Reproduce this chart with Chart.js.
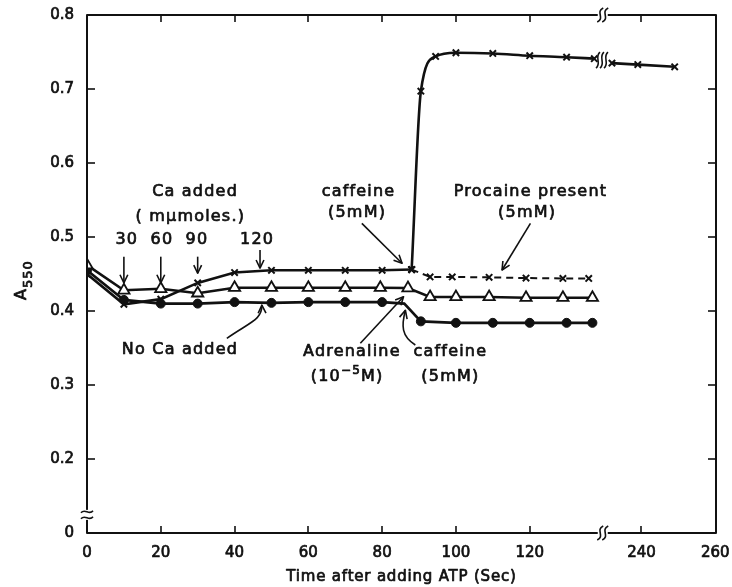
<!DOCTYPE html>
<html><head><meta charset="utf-8">
<script src="https://cdn.jsdelivr.net/npm/chart.js@4.4.0/dist/chart.umd.min.js"></script>
<style>html,body{margin:0;padding:0;background:#fff}canvas{display:block}</style>
</head><body>
<canvas id="c" width="732" height="587"></canvas>
<script>
// ---- axis definitions ----
const X_BREAK_OFFSET = 89.7;           // seconds removed by the x-axis break
const xTickSeconds = [0,20,40,60,80,100,120,240,260];
const xTickLabels  = ['0','20','40','60','80','100','120','240','260'];
const yTickPositions = [0.1,0.2,0.3,0.4,0.5,0.6,0.7,0.8];
const yTickLabels    = ['0','0.2','0.3','0.4','0.5','0.6','0.7','0.8'];

// ---- series (time in s, A550) ----
const crossTimes  = [0,10,20,30,40,50,60,70,80,88];
const crossValues = [0.450,0.409,0.416,0.438,0.452,0.455,0.455,0.455,0.455,0.456];
const caffeineTimes  = [88,90.5,94.5,100,110,120,130,137.5];
const caffeineValues = [0.456,0.697,0.744,0.749,0.748,0.745,0.743,0.741];
const caffeineLateTimes  = [232,239,249];
const caffeineLateValues = [0.735,0.733,0.730];
const procaineTimes  = [88,93,99,109,119,129,136];
const procaineValues = [0.456,0.446,0.446,0.4455,0.4445,0.444,0.444];
const triTimes  = [0,10,20,30,40,50,60,70,79.5,87,93,100,109,119,129,137];
const triValues = [0.462,0.428,0.430,0.424,0.4315,0.4315,0.4315,0.4315,0.4315,0.431,0.419,0.419,0.419,0.418,0.418,0.418];
const circleTimes  = [0,10,20,30,40,50,60,70,80,86,90.5,100,110,120,130,137];
const circleValues = [0.455,0.415,0.410,0.410,0.412,0.411,0.412,0.412,0.412,0.410,0.386,0.384,0.384,0.384,0.384,0.384];
const circleMarked = [1,1,1,1,1,1,1,1,1,0,1,1,1,1,1,1];

const toDisp = t => (t > 200 ? t - X_BREAK_OFFSET : t);
const pts = (ts, vs, marks) => ts.map((t,i) => ({x: toDisp(t), y: vs[i], m: marks ? marks[i] : 1}));

const FONT = "'DejaVu Sans', sans-serif";
const INK = '#111';

const baseLine = {borderColor: INK, borderWidth: 2.6, pointBorderColor: INK, tension: 0, fill: false};
const crossStyle = {pointStyle: 'crossRot', pointRadius: 4.5, pointBorderWidth: 2, pointBackgroundColor: INK};

const datasets = [
  Object.assign({label:'Ca added', data: pts(crossTimes, crossValues)}, baseLine, crossStyle),
  Object.assign({label:'caffeine', data: pts(caffeineTimes, caffeineValues), cubicInterpolationMode:'monotone'}, baseLine, crossStyle),
  Object.assign({label:'caffeine late', data: pts(caffeineLateTimes, caffeineLateValues)}, baseLine, crossStyle),
  Object.assign({label:'procaine', data: pts(procaineTimes, procaineValues)}, baseLine, crossStyle, {borderWidth: 2, borderDash: [7,5]}),
  Object.assign({label:'adrenaline', data: pts(triTimes, triValues)}, baseLine,
    {pointStyle:'triangle', pointRadius: 6.5, pointBorderWidth: 1.8, pointBackgroundColor:'#fff'}),
  Object.assign({label:'no Ca', data: pts(circleTimes, circleValues, circleMarked)}, baseLine,
    {pointStyle:'circle', pointRadius: c => (c.raw && c.raw.m ? 4.5 : 0), pointBorderWidth: 1, pointBackgroundColor: INK})
];

// ---- annotations (data coordinates) ----
const texts = [
  ['Ca added', 29.3, 0.561], ['( mμmoles.)', 28.0, 0.527],
  ['30', 10.8, 0.496], ['60', 20.3, 0.496], ['90', 29.8, 0.496], ['120', 46.1, 0.496],
  ['No Ca added', 25.2, 0.347],
  ['caffeine', 73.6, 0.561], ['(5mM)', 73.2, 0.532],
  ['Procaine present', 120.2, 0.561], ['(5mM)', 119.3, 0.532],
  ['Adrenaline', 71.8, 0.345],
  ['caffeine', 98.5, 0.345], ['(5mM)', 98.5, 0.311]
];
const straightArrows = [
  [10, 0.4734, 10, 0.438], [20, 0.4734, 20, 0.438], [30, 0.4734, 30, 0.451], [46.9, 0.4824, 46.9, 0.458],
  [74.5, 0.5185, 85.4, 0.4645], [120.2, 0.5185, 112.5, 0.4554], [74.1, 0.3564, 85.8, 0.4193]
];
const curvedArrows = [
  [37.9, 0.363, 44.2, 0.385, 47.5, 0.388, 47.4, 0.408],
  [89.0, 0.354, 85.2, 0.366, 85.2, 0.380, 86.3, 0.401]
];

function arrowHead(ctx, x1, y1, x2, y2, len) {
  const a = Math.atan2(y2 - y1, x2 - x1), w = 0.45;
  ctx.beginPath();
  ctx.moveTo(x2 - len*Math.cos(a - w), y2 - len*Math.sin(a - w));
  ctx.lineTo(x2, y2);
  ctx.lineTo(x2 - len*Math.cos(a + w), y2 - len*Math.sin(a + w));
  ctx.stroke();
}

const TXT = '16px ' + FONT;
const SMALL = '12px ' + FONT;
const STROKE_W = 0.7;
function txt(ctx, s, x, y) {
  ctx.fillText(s, x, y);
  ctx.lineWidth = STROKE_W; ctx.strokeText(s, x, y);
}

const decor = {
  id: 'decor',
  afterDraw(chart) {
    const {ctx, chartArea: a, scales: {x, y}} = chart;
    const X = v => x.getPixelForValue(v), Y = v => y.getPixelForValue(v);
    ctx.save();
    ctx.strokeStyle = INK; ctx.fillStyle = INK; ctx.lineCap = 'butt'; ctx.lineJoin = 'round';
    ctx.lineWidth = 2;
    ctx.strokeRect(a.left, a.top, a.right - a.left, a.bottom - a.top);
    ctx.lineWidth = 1.6;
    xTickSeconds.forEach((t, i) => {
      if (i === 0 || i === xTickSeconds.length - 1) return;
      const px = Math.round(X(toDisp(t)));
      ctx.beginPath(); ctx.moveTo(px, a.bottom); ctx.lineTo(px, a.bottom - 7); ctx.stroke();
      ctx.beginPath(); ctx.moveTo(px, a.top); ctx.lineTo(px, a.top + 7); ctx.stroke();
    });
    yTickPositions.forEach((v, i) => {
      if (i === 0 || i === yTickPositions.length - 1) return;
      const py = Math.round(Y(v));
      ctx.beginPath(); ctx.moveTo(a.left, py); ctx.lineTo(a.left + 8, py); ctx.stroke();
      ctx.beginPath(); ctx.moveTo(a.right, py); ctx.lineTo(a.right - 8, py); ctx.stroke();
    });
    // x-axis breaks
    const bx = X(139.8);
    [a.bottom, a.top].forEach(by => {
      ctx.fillStyle = '#fff'; ctx.fillRect(bx - 5, by - 2, 10, 4);
      ctx.lineWidth = 1.6;
      [-2.5, 2.5].forEach(dx => {
        ctx.beginPath();
        ctx.moveTo(bx + dx - 3, by + 7);
        ctx.bezierCurveTo(bx + dx + 5, by + 3, bx + dx - 5, by - 3, bx + dx + 3, by - 7);
        ctx.stroke();
      });
    });
    // y-axis break
    const byy = Y(0.1245);
    ctx.fillStyle = '#fff'; ctx.fillRect(a.left - 2, byy - 5, 4, 10);
    [-3, 3].forEach(dy => {
      ctx.beginPath();
      ctx.moveTo(a.left - 6, byy + dy + 1);
      ctx.bezierCurveTo(a.left - 2, byy + dy - 4, a.left + 2, byy + dy + 4, a.left + 6, byy + dy - 1);
      ctx.stroke();
    });
    // series break on caffeine trace
    const sx = X(139.6), sy = Y(0.739);
    [-4, 0, 4].forEach(dx => {
      ctx.beginPath();
      ctx.moveTo(sx + dx - 2, sy + 8);
      ctx.bezierCurveTo(sx + dx + 4, sy + 3, sx + dx - 4, sy - 3, sx + dx + 2, sy - 8);
      ctx.stroke();
    });
    // texts
    ctx.fillStyle = INK;
    ctx.font = TXT;
    try { ctx.letterSpacing = '1.2px'; } catch (e) {}
    ctx.textAlign = 'center'; ctx.textBaseline = 'middle';
    texts.forEach(([s, tx, ty]) => txt(ctx, s, X(tx), Y(ty)));
    {
      const cx = X(70.5), cy = Y(0.3112);
      const p1 = '(10', p2 = '−5', p3 = 'M)';
      ctx.font = TXT; const w1 = ctx.measureText(p1).width, w3 = ctx.measureText(p3).width;
      ctx.font = SMALL; const w2 = ctx.measureText(p2).width;
      const sx0 = cx - (w1 + w2 + w3) / 2;
      ctx.textAlign = 'left';
      ctx.font = TXT; txt(ctx, p1, sx0, cy);
      ctx.font = SMALL; txt(ctx, p2, sx0 + w1, cy - 6);
      ctx.font = TXT; txt(ctx, p3, sx0 + w1 + w2, cy);
    }
    ctx.lineWidth = 1.6;
    straightArrows.forEach(([x1, y1, x2, y2]) => {
      const p1x = X(x1), p1y = Y(y1), p2x = X(x2), p2y = Y(y2);
      ctx.lineWidth = 1.6;
      ctx.beginPath(); ctx.moveTo(p1x, p1y); ctx.lineTo(p2x, p2y); ctx.stroke();
      arrowHead(ctx, p1x, p1y, p2x, p2y, 9);
    });
    curvedArrows.forEach(([x0, y0, x1, y1, x2, y2, x3, y3]) => {
      ctx.lineWidth = 1.6;
      ctx.beginPath(); ctx.moveTo(X(x0), Y(y0));
      ctx.bezierCurveTo(X(x1), Y(y1), X(x2), Y(y2), X(x3), Y(y3)); ctx.stroke();
      arrowHead(ctx, X(x2), Y(y2), X(x3), Y(y3), 9);
    });
    // y-axis title A550
    ctx.save();
    ctx.translate(22, 280);
    ctx.rotate(-Math.PI / 2);
    try { ctx.letterSpacing = '1px'; } catch (e) {}
    ctx.textAlign = 'left'; ctx.textBaseline = 'middle';
    ctx.font = TXT;
    const wa = ctx.measureText('A').width;
    ctx.font = '13px ' + FONT;
    const ws = ctx.measureText('550').width;
    const start = -(wa + ws) / 2;
    ctx.font = TXT; txt(ctx, 'A', start, 0);
    ctx.font = '13px ' + FONT; txt(ctx, '550', start + wa, 7);
    ctx.restore();
    // x-axis title
    ctx.font = '15px ' + FONT; ctx.textAlign = 'center';
    try { ctx.letterSpacing = '0.8px'; } catch (e) {}
    txt(ctx, 'Time after adding ATP (Sec)', (a.left + a.right) / 2, 577);
    ctx.restore();
  }
};

const tickFont = {family: FONT, size: 15};
new Chart(document.getElementById('c'), {
  type: 'line',
  data: {datasets},
  options: {
    responsive: false, animation: false, devicePixelRatio: 1,
    layout: {padding: {top: 15, right: 16, bottom: 0, left: 0}},
    plugins: {legend: {display: false}, tooltip: {enabled: false}},
    scales: {
      x: {
        type: 'linear', min: 0, max: 170.5,
        grid: {display: false, drawTicks: false}, border: {display: false},
        ticks: {font: tickFont, color: INK, textStrokeColor: INK, textStrokeWidth: STROKE_W,
                padding: 11, autoSkip: false, maxRotation: 0,
                callback: (v, i) => xTickLabels[i]},
        afterBuildTicks: s => { s.ticks = xTickSeconds.map(t => ({value: toDisp(t)})); },
        afterFit: s => { s.height = 54; s.paddingLeft = 0; s.paddingRight = 0; }
      },
      y: {
        type: 'linear', min: 0.1, max: 0.8,
        grid: {display: false, drawTicks: false}, border: {display: false},
        ticks: {font: tickFont, color: INK, textStrokeColor: INK, textStrokeWidth: STROKE_W,
                padding: 13, autoSkip: false,
                callback: (v, i) => yTickLabels[i]},
        afterBuildTicks: s => { s.ticks = yTickPositions.map(v => ({value: v})); },
        afterFit: s => { s.width = 87; s.paddingTop = 0; s.paddingBottom = 0; }
      }
    }
  },
  plugins: [decor]
});
</script>
</body></html>
